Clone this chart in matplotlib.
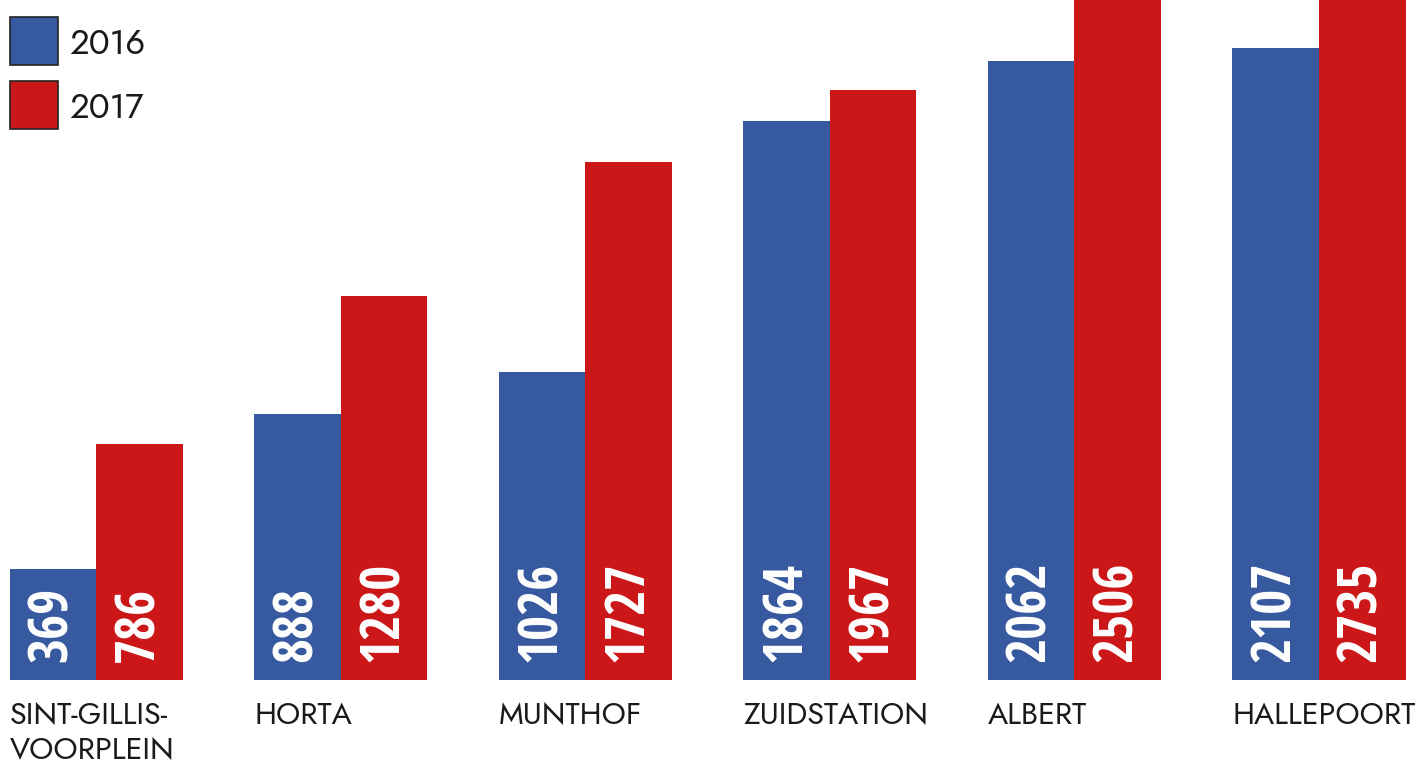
import matplotlib
matplotlib.use("Agg")
import matplotlib.pyplot as plt
import numpy as np
from matplotlib.patches import Rectangle

stations = ["SINT-GILLIS-\nVOORPLEIN", "HORTA", "MUNTHOF", "ZUIDSTATION", "ALBERT", "HALLEPOORT"]
v2016 = [369, 888, 1026, 1864, 2062, 2107]
v2017 = [786, 1280, 1727, 1967, 2506, 2735]

blue = "#3759a0"
red = "#cc1719"

W, H = 1416, 765
fig = plt.figure(figsize=(W / 100, H / 100), dpi=100)
base_px = 680
ax = fig.add_axes([0, (H - base_px) / H, 1, base_px / H])

step = 244.6
bw = 86.5 / step
x = np.arange(len(stations))

ax.bar(x - bw / 2, v2016, bw, color=blue, linewidth=0)
ax.bar(x + bw / 2, v2017, bw, color=red, linewidth=0)

ax.set_xlim(-96 / step, (W - 96) / step)
ax.set_ylim(0, base_px / 0.3)
ax.axis("off")

num_font = dict(family=["Open Sans Condensed", "DejaVu Sans"], weight="bold", size=39, color="white")
off = 18 / 0.3
for i in x:
    ax.text(i - bw / 2, off, str(v2016[i]), rotation=90, ha="center", va="bottom", **num_font)
    ax.text(i + bw / 2, off, str(v2017[i]), rotation=90, ha="center", va="bottom", **num_font)

lab_font = dict(family=["Jost", "DejaVu Sans"], weight="light", size=22, color="#1a1a1a")
for i, s in enumerate(stations):
    ax.text(i - bw, -21 / 0.3, s, ha="left", va="top", linespacing=1.2,
            clip_on=False, **lab_font)

# legend
for k, (lab, col) in enumerate([("2016", blue), ("2017", red)]):
    y0 = 17 + k * 64
    fig.patches.append(Rectangle((10 / W, 1 - (y0 + 48) / H), 48 / W, 48 / H,
                                 transform=fig.transFigure, facecolor=col,
                                 edgecolor="#222222", linewidth=1.2))
    fig.text(69 / W, 1 - (y0 + 27) / H, lab, ha="left", va="center",
             family=["Jost", "DejaVu Sans"], weight="light", size=25, color="#1a1a1a")

fig.savefig("out.png", dpi=100)
